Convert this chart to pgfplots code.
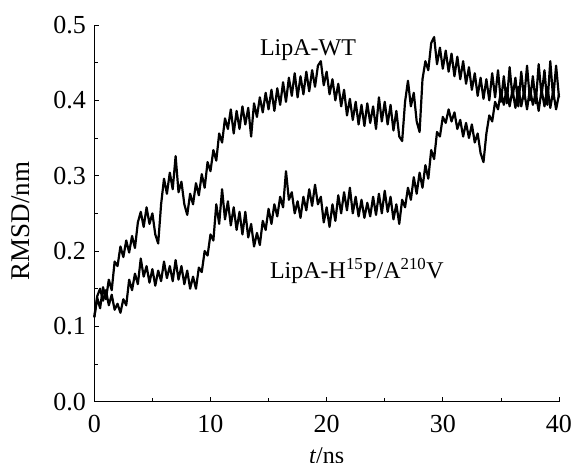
\documentclass[border=0pt]{standalone}
\usepackage{pgfplots}
\pgfplotsset{compat=1.18}
\usepackage{fontspec}
\setmainfont{Liberation Serif}
\begin{document}
\begin{tikzpicture}
\begin{axis}[
  at={(0,0)}, anchor=south west,
  scale only axis, width=464.7pt, height=376.7pt,
  xmin=0, xmax=40, ymin=0, ymax=0.5,
  axis x line=bottom, axis y line=left,
  axis line style={-, line width=0.7pt},
  xtick={0,10,20,30,40}, minor x tick num=1,
  ytick={0,0.1,0.2,0.3,0.4,0.5}, minor y tick num=1,
  tick align=inside,
  major tick length=5pt, minor tick length=4pt,
  tick style={line width=0.7pt, black},
  /pgf/number format/assume math mode=true,
  yticklabel style={/pgf/number format/fixed, /pgf/number format/fixed zerofill, /pgf/number format/precision=1, xshift=-5pt},
  xticklabel style={yshift=-10pt},
  tick label style={font=\fontsize{26}{30}\selectfont},
  clip=false,
]
\addplot[black, line width=2.2pt, line join=round] coordinates {
(0,0.112)(0.25,0.138)(0.5,0.124)(0.75,0.152)(1,0.136)(1.25,0.162)(1.5,0.148)(1.75,0.186)
(2,0.180)(2.25,0.206)(2.5,0.192)(2.75,0.214)(3,0.198)(3.25,0.220)(3.5,0.204)(3.75,0.238)
(4,0.252)(4.25,0.232)(4.5,0.258)(4.75,0.236)(5,0.250)(5.25,0.222)(5.5,0.210)(5.75,0.262)
(6,0.296)(6.25,0.276)(6.5,0.304)(6.75,0.282)(7,0.326)(7.25,0.278)(7.5,0.292)(7.75,0.262)
(8,0.248)(8.25,0.276)(8.5,0.262)(8.75,0.290)(9,0.274)(9.25,0.302)(9.5,0.284)(9.75,0.318)
(10,0.306)(10.25,0.334)(10.5,0.320)(10.75,0.356)(11,0.344)(11.25,0.376)(11.5,0.362)(11.75,0.388)
(12,0.356)(12.25,0.386)(12.5,0.362)(12.75,0.392)(13,0.368)(13.25,0.390)(13.5,0.352)(13.75,0.396)
(14,0.378)(14.25,0.404)(14.5,0.384)(14.75,0.410)(15,0.388)(15.25,0.414)(15.5,0.386)(15.75,0.416)
(16,0.394)(16.25,0.424)(16.5,0.398)(16.75,0.430)(17,0.406)(17.25,0.436)(17.5,0.404)(17.75,0.432)
(18,0.408)(18.25,0.438)(18.5,0.412)(18.75,0.440)(19,0.418)(19.25,0.446)(19.5,0.452)(19.75,0.420)
(20,0.438)(20.25,0.408)(20.5,0.428)(20.75,0.400)(21,0.422)(21.25,0.392)(21.5,0.414)(21.75,0.380)
(22,0.402)(22.25,0.374)(22.5,0.398)(22.75,0.368)(23,0.394)(23.25,0.366)(23.5,0.396)(23.75,0.370)
(24,0.392)(24.25,0.362)(24.5,0.404)(24.75,0.372)(25,0.398)(25.25,0.368)(25.5,0.394)(25.75,0.360)
(26,0.386)(26.25,0.352)(26.5,0.346)(26.75,0.398)(27,0.426)(27.25,0.392)(27.5,0.410)(27.75,0.372)
(28,0.358)(28.25,0.428)(28.5,0.452)(28.75,0.440)(29,0.476)(29.25,0.484)(29.5,0.448)(29.75,0.470)
(30,0.442)(30.25,0.466)(30.5,0.438)(30.75,0.462)(31,0.432)(31.25,0.458)(31.5,0.428)(31.75,0.452)
(32,0.422)(32.25,0.444)(32.5,0.414)(32.75,0.436)(33,0.406)(33.25,0.430)(33.5,0.402)(33.75,0.428)
(34,0.400)(34.25,0.436)(34.5,0.404)(34.75,0.440)(35,0.398)(35.25,0.432)(35.5,0.396)(35.75,0.444)
(36,0.404)(36.25,0.430)(36.5,0.392)(36.75,0.438)(37,0.402)(37.25,0.446)(37.5,0.400)(37.75,0.432)
(38,0.396)(38.25,0.448)(38.5,0.406)(38.75,0.440)(39,0.394)(39.25,0.452)(39.5,0.402)(39.75,0.446)
(40,0.404)
};
\addplot[black, line width=2.2pt, line join=round] coordinates {
(0,0.112)(0.25,0.140)(0.5,0.150)(0.75,0.134)(1,0.148)(1.25,0.128)(1.5,0.142)(1.75,0.122)
(2,0.130)(2.25,0.118)(2.5,0.136)(2.75,0.128)(3,0.162)(3.25,0.148)(3.5,0.170)(3.75,0.156)
(4,0.190)(4.25,0.166)(4.5,0.180)(4.75,0.158)(5,0.176)(5.25,0.154)(5.5,0.174)(5.75,0.160)
(6,0.186)(6.25,0.164)(6.5,0.180)(6.75,0.160)(7,0.188)(7.25,0.162)(7.5,0.180)(7.75,0.156)
(8,0.174)(8.25,0.150)(8.5,0.166)(8.75,0.150)(9,0.178)(9.25,0.172)(9.5,0.200)(9.75,0.194)
(10,0.222)(10.25,0.214)(10.5,0.262)(10.75,0.236)(11,0.282)(11.25,0.242)(11.5,0.266)(11.75,0.234)
(12,0.258)(12.25,0.228)(12.5,0.252)(12.75,0.222)(13,0.252)(13.25,0.218)(13.5,0.236)(13.75,0.206)
(14,0.224)(14.25,0.208)(14.5,0.240)(14.75,0.228)(15,0.256)(15.25,0.236)(15.5,0.262)(15.75,0.246)
(16,0.272)(16.25,0.258)(16.5,0.306)(16.75,0.268)(17,0.278)(17.25,0.250)(17.5,0.266)(17.75,0.244)
(18,0.272)(18.25,0.254)(18.5,0.282)(18.75,0.260)(19,0.288)(19.25,0.262)(19.5,0.272)(19.75,0.238)
(20,0.258)(20.25,0.232)(20.5,0.262)(20.75,0.240)(21,0.274)(21.25,0.250)(21.5,0.278)(21.75,0.254)
(22,0.284)(22.25,0.250)(22.5,0.272)(22.75,0.246)(23,0.268)(23.25,0.244)(23.5,0.264)(23.75,0.246)
(24,0.272)(24.25,0.248)(24.5,0.276)(24.75,0.250)(25,0.280)(25.25,0.252)(25.5,0.272)(25.75,0.242)
(26,0.262)(26.25,0.236)(26.5,0.268)(26.75,0.258)(27,0.284)(27.25,0.268)(27.5,0.298)(27.75,0.276)
(28,0.304)(28.25,0.284)(28.5,0.314)(28.75,0.296)(29,0.334)(29.25,0.322)(29.5,0.358)(29.75,0.352)
(30,0.378)(30.25,0.370)(30.5,0.388)(30.75,0.372)(31,0.384)(31.25,0.362)(31.5,0.374)(31.75,0.352)
(32,0.370)(32.25,0.350)(32.5,0.368)(32.75,0.344)(33,0.356)(33.25,0.330)(33.5,0.318)(33.75,0.356)
(34,0.380)(34.25,0.372)(34.5,0.398)(34.75,0.388)(35,0.412)(35.25,0.394)(35.5,0.416)(35.75,0.392)
(36,0.414)(36.25,0.390)(36.5,0.418)(36.75,0.392)(37,0.412)(37.25,0.388)(37.5,0.416)(37.75,0.394)
(38,0.410)(38.25,0.386)(38.5,0.414)(38.75,0.392)(39,0.418)(39.25,0.390)(39.5,0.412)(39.75,0.388)
(40,0.408)
};
\node[anchor=base, font=\fontsize{24}{28}\selectfont] at (axis cs:18.4,0.460) {LipA-WT};
\node[anchor=base, font=\fontsize{24}{28}\selectfont] at (axis cs:22.6,0.164) {LipA-H\textsuperscript{15}P/A\textsuperscript{210}V};
\node[anchor=base, font=\fontsize{24}{28}\selectfont] at ([yshift=-61.5pt]axis description cs:0.5,0) {\textit{t}/ns};
\node[anchor=base, rotate=90, font=\fontsize{27}{32}\selectfont] at ([xshift=-64.3pt]axis description cs:0,0.48) {RMSD/nm};
\end{axis}
\pgfresetboundingbox
\path[use as bounding box] (-94.3pt,-61.3pt) rectangle (479.7pt,401.7pt);
\end{tikzpicture}
\end{document}
